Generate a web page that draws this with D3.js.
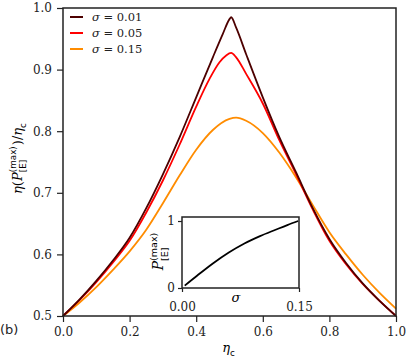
<!DOCTYPE html>
<html>
<head>
<meta charset="utf-8">
<script src="https://cdn.jsdelivr.net/npm/d3@7"></script>
<style>
  body { margin: 0; background: #fff; }
  svg { display: block; }
</style>
</head>
<body>
<script>
const W = 406, H = 361;
const serif = "DejaVu Serif", sans = "DejaVu Sans";

// main curves: eta(P_max)/eta_c against eta_c
const etaC01 = [0,0.05,0.1,0.15,0.2,0.25,0.3,0.35,0.4,0.45,0.48,0.5,0.505,0.52,0.55,0.6,0.65,0.7,0.75,0.8,0.85,0.9,0.95,1.0];
const eff01  = [0.5,0.527,0.557,0.59,0.627,0.675,0.73,0.79,0.855,0.92,0.958,0.982,0.985,0.968,0.925,0.855,0.79,0.733,0.675,0.625,0.586,0.553,0.525,0.5];
const etaC05 = [0,0.05,0.1,0.15,0.2,0.25,0.3,0.35,0.4,0.44,0.47,0.49,0.505,0.52,0.55,0.6,0.65,0.7,0.75,0.8,0.85,0.9,0.95,1.0];
const eff05  = [0.5,0.526,0.555,0.587,0.622,0.668,0.72,0.778,0.84,0.885,0.912,0.923,0.927,0.92,0.893,0.845,0.785,0.73,0.673,0.622,0.584,0.552,0.525,0.5];
const etaC15 = [0,0.05,0.1,0.15,0.2,0.25,0.3,0.35,0.4,0.45,0.5,0.52,0.55,0.6,0.65,0.7,0.75,0.8,0.85,0.9,0.95,1.0];
const eff15  = [0.5,0.522,0.547,0.575,0.605,0.64,0.683,0.728,0.77,0.802,0.82,0.822,0.817,0.797,0.765,0.725,0.68,0.636,0.6,0.567,0.538,0.512];

const sigmaLabels = ["0.01", "0.05", "0.15"];
const colors = ["#4d0000", "#ff0000", "#ff8c00"];

// inset: P_max against sigma
const sigmaVals = [0.0035,0.02,0.04,0.06,0.08,0.1,0.12,0.135,0.149];
const pMax      = [0.035,0.19,0.37,0.53,0.665,0.775,0.87,0.94,1.0];

const xTicks = [0,0.2,0.4,0.6,0.8,1.0];
const yTicks = [0.5,0.6,0.7,0.8,0.9,1.0];

let svg = d3.select("body").append("svg")
  .attr("width", W).attr("height", H);

let x = d3.scaleLinear().domain([0, 1]).range([63, 396]);
let y = d3.scaleLinear().domain([0.5, 1.0]).range([316, 8]);

// lay out a bit of math text piece by piece, returns group centred on 0
function mathText(parent, parts, size) {
  let outer = parent.append("g");
  let g = outer.append("g");
  let pos = 0;
  parts.forEach(p => {
    if (p.sup !== undefined || p.sub !== undefined) {
      let w = 0;
      if (p.sup) {
        let t = g.append("text").attr("x", pos).attr("y", -size * 0.45)
          .attr("font-family", sans).attr("font-size", size * 0.68).text(p.sup);
        w = Math.max(w, t.node().getComputedTextLength());
      }
      if (p.sub) {
        let t = g.append("text").attr("x", pos).attr("y", size * 0.33)
          .attr("font-family", sans).attr("font-size", size * 0.68).text(p.sub);
        w = Math.max(w, t.node().getComputedTextLength());
      }
      pos += w + 1;
    } else {
      let t = g.append("text").attr("x", pos)
        .attr("font-family", serif)
        .attr("font-style", p.it ? "italic" : "normal")
        .attr("font-size", size).text(p.t);
      pos += t.node().getComputedTextLength();
    }
  });
  g.attr("transform", "translate(" + (-pos / 2) + ",0)");
  return outer;
}

function drawCurve(xs, ys, color) {
  let pts = xs.map((v, i) => [v, ys[i]]);
  svg.append("path")
    .datum(pts)
    .attr("fill", "none")
    .attr("stroke", color)
    .attr("stroke-width", 1.8)
    .attr("d", d3.line().x(d => x(d[0])).y(d => y(d[1])).curve(d3.curveMonotoneX));
}

drawCurve(etaC15, eff15, colors[2]);
drawCurve(etaC05, eff05, colors[1]);
drawCurve(etaC01, eff01, colors[0]);

// axes
let xAxis = svg.append("g")
  .attr("transform", "translate(0,316)")
  .call(d3.axisBottom(x).tickValues(xTicks).tickFormat(d3.format(".1f")).tickSize(6).tickPadding(5));
let yAxis = svg.append("g")
  .attr("transform", "translate(63,0)")
  .call(d3.axisLeft(y).tickValues(yTicks).tickFormat(d3.format(".1f")).tickSize(6).tickPadding(5));
[xAxis, yAxis].forEach(a => {
  a.select(".domain").remove();
  a.selectAll("line").attr("stroke", "#222").attr("stroke-width", 1.2);
  a.selectAll("text").attr("font-family", serif).attr("font-size", 12).attr("fill", "#222");
});

svg.append("rect")
  .attr("x", 63).attr("y", 8).attr("width", 333).attr("height", 308)
  .attr("fill", "none").attr("stroke", "#222").attr("stroke-width", 1.5);

// legend
sigmaLabels.forEach((s, i) => {
  let ly = 17 + i * 16;
  svg.append("line")
    .attr("x1", 70).attr("x2", 83).attr("y1", ly).attr("y2", ly)
    .attr("stroke", colors[i]).attr("stroke-width", 2);
  let t = svg.append("text")
    .attr("x", 92).attr("y", ly + 4)
    .attr("font-family", serif).attr("font-size", 11.5).attr("fill", "#222");
  t.append("tspan").attr("font-style", "italic").text("σ");
  t.append("tspan").text(" = " + s);
});

// axis labels
mathText(svg, [{t: "η", it: true}, {sub: "c"}], 13)
  .attr("transform", "translate(229,352)");

mathText(svg, [
  {t: "η", it: true}, {t: "("}, {t: "P", it: true}, {sup: "(max)", sub: "[E]"},
  {t: ")/"}, {t: "η", it: true}, {sub: "c"}
], 13).attr("transform", "translate(22,158) rotate(-90)");

svg.append("text")
  .attr("x", 0).attr("y", 334)
  .attr("font-family", sans).attr("font-size", 13).attr("fill", "#222")
  .text("(b)");

// inset
let ix = d3.scaleLinear().domain([0, 0.15]).range([182, 299]);
let iy = d3.scaleLinear().domain([0, 1.06]).range([288, 217]);

svg.append("rect")
  .attr("x", 182).attr("y", 217).attr("width", 117).attr("height", 71)
  .attr("fill", "#fff");

svg.append("path")
  .datum(sigmaVals.map((v, i) => [v, pMax[i]]))
  .attr("fill", "none").attr("stroke", "#000").attr("stroke-width", 1.8)
  .attr("d", d3.line().x(d => ix(d[0])).y(d => iy(d[1])).curve(d3.curveMonotoneX));

let ixAxis = svg.append("g")
  .attr("transform", "translate(0,288)")
  .call(d3.axisBottom(ix).tickValues([0, 0.15]).tickFormat(d3.format(".2f")).tickSize(4).tickPadding(10));
let iyAxis = svg.append("g")
  .attr("transform", "translate(182,0)")
  .call(d3.axisLeft(iy).tickValues([0, 1]).tickFormat(d3.format("d")).tickSize(4).tickPadding(3));
[ixAxis, iyAxis].forEach(a => {
  a.select(".domain").remove();
  a.selectAll("line").attr("stroke", "#222").attr("stroke-width", 1.2);
  a.selectAll("text").attr("font-family", serif).attr("font-size", 12).attr("fill", "#222");
});

svg.append("rect")
  .attr("x", 182).attr("y", 217).attr("width", 117).attr("height", 71)
  .attr("fill", "none").attr("stroke", "#222").attr("stroke-width", 1.5);

mathText(svg, [{t: "σ", it: true}], 13)
  .attr("transform", "translate(236,302)");

mathText(svg, [{t: "P", it: true}, {sup: "(max)", sub: "[E]"}], 14)
  .attr("transform", "translate(163,251) rotate(-90)");
</script>
</body>
</html>
